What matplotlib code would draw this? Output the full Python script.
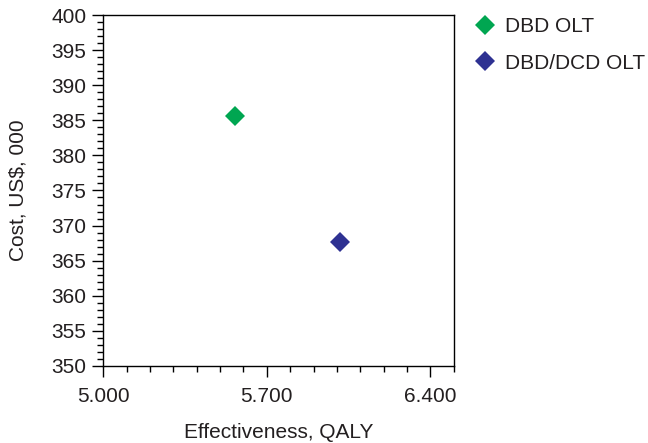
import matplotlib
matplotlib.use("Agg")
import matplotlib.pyplot as plt
from matplotlib.ticker import FixedLocator, MultipleLocator, FormatStrFormatter

# data
labels = ["DBD OLT", "DBD/DCD OLT"]
effectiveness = [5.564, 6.015]   # QALY
cost = [385.7, 367.6]            # US$, 000
colors = ["#00a651", "#2e3192"]

x_major = [5.0, 5.7, 6.4]

text_color = "#231f20"
plt.rcParams["font.family"] = ["Liberation Sans", "DejaVu Sans"]
plt.rcParams["font.size"] = 15
plt.rcParams["text.color"] = text_color

fig = plt.figure(figsize=(6.48, 4.43), dpi=100)
ax = fig.add_axes([0.1594, 0.1745, 0.7002 - 0.1594, 0.9655 - 0.1745])

for xv, yv, c, lab in zip(effectiveness, cost, colors, labels):
    ax.plot([xv], [yv], linestyle="none", marker="D", markersize=10.5,
            color=c, markeredgewidth=0, label=lab)

ax.set_xlim(5.0, 6.5)
ax.set_ylim(350, 400)
ax.xaxis.set_major_locator(FixedLocator(x_major))
ax.xaxis.set_minor_locator(MultipleLocator(0.1))
ax.xaxis.set_major_formatter(FormatStrFormatter("%.3f"))
ax.yaxis.set_major_locator(MultipleLocator(5))
ax.yaxis.set_minor_locator(MultipleLocator(1))

ax.tick_params(which="major", length=8, width=1, direction="out", pad=4,
               labelcolor=text_color, labelsize=15)
ax.tick_params(axis="x", which="major", pad=7.5)
ax.tick_params(which="minor", length=4.5, width=1, direction="out")
for sp in ax.spines.values():
    sp.set_linewidth(1)

ax.set_xlabel("Effectiveness, QALY", color=text_color, labelpad=12)
ax.set_ylabel("Cost, US$, 000", color=text_color, labelpad=17)

ax.legend(loc="upper left", bbox_to_anchor=(476.6 / 648, 1 - 17 / 443),
          bbox_transform=fig.transFigure, frameon=False, borderpad=0,
          borderaxespad=0, handlelength=0.8, handletextpad=0.55,
          labelspacing=0.85, fontsize=15)

fig.savefig("out.png", dpi=100)
